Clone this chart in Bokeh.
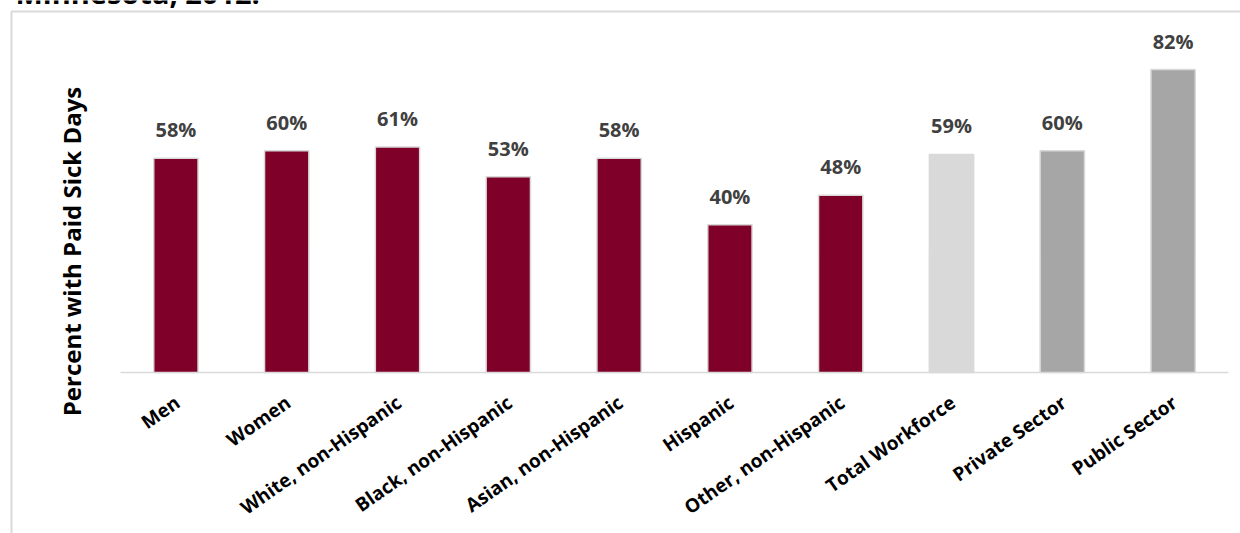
import math
from bokeh.plotting import figure
from bokeh.models import ColumnDataSource, Range1d
from bokeh.core.properties import value
from bokeh.embed import file_html
from bokeh.resources import INLINE

categories = ["Men", "Women", "White, non-Hispanic", "Black, non-Hispanic",
              "Asian, non-Hispanic", "Hispanic", "Other, non-Hispanic",
              "Total Workforce", "Private Sector", "Public Sector"]
values = [58, 60, 61, 53, 58, 40, 48, 59, 60, 82]
labels = ["58%", "60%", "61%", "53%", "58%", "40%", "48%", "59%", "60%", "82%"]
colors = ["#7F0028"] * 7 + ["#D9D9D9", "#A6A6A6", "#A6A6A6"]
title_text = "Minnesota, 2012."
y_title = "Percent with Paid Sick Days"

# layout (pixels of the 1240x533 canvas)
W, H = 1240, 533
PLOT_LEFT, PLOT_RIGHT, BASELINE = 120, 1228, 372
n = len(categories)
U = (PLOT_RIGHT - PLOT_LEFT) / n      # px per category
K = 3.695                              # px per percent


def px_x(px):
    return (px - PLOT_LEFT) / U


def px_y(py):
    return (BASELINE - py) / K


xc = [i + 0.5 for i in range(n)]
src = ColumnDataSource(dict(x=xc, cat=categories, val=values, lab=labels, col=colors))

p = figure(width=W, height=H, x_range=Range1d(px_x(0), px_x(W)),
           y_range=Range1d(px_y(H), px_y(0)), min_border=0,
           output_backend="svg", toolbar_location=None)
p.axis.visible = False
p.grid.grid_line_color = None
p.outline_line_color = None
p.background_fill_color = "white"
p.border_fill_color = "white"

# chart-area border (left and top)
p.line(x=[px_x(11), px_x(11), px_x(W + 5)], y=[px_y(H + 5), px_y(11), px_y(11)],
       line_color="#D9D9D9", line_width=2)

# category axis line
p.line(x=[0, n], y=[0, 0], line_color="#D9D9D9", line_width=1.5)

p.vbar(x="x", top="val", width=0.4, source=src, fill_color="col",
       line_color="#D9D9D9", line_width=1.5)

p.text(x="x", y="val", text="lab", source=src, text_align="center",
       text_baseline="bottom", y_offset=-15, text_font=value("Open Sans"),
       text_font_style="bold", text_font_size="20px", text_color="#404040")

# category labels
p.text(x="x", y=0, text="cat", source=src, angle=math.radians(35),
       text_align="right", text_baseline="top", x_offset=-6, y_offset=17,
       text_font=value("Open Sans"), text_font_style="bold",
       text_font_size="19px", text_color="#000000")

# y axis title
p.text(x=[px_x(71)], y=[px_y(251)], text=[y_title], angle=math.pi / 2,
       text_align="center", text_baseline="middle",
       text_font=value("Open Sans"), text_font_style="bold",
       text_font_size="24px", text_color="#000000")

# chart title (cut at the top, as in the original)
p.text(x=[px_x(15)], y=[px_y(11)], text=[title_text], text_align="left",
       text_baseline="bottom", text_font=value("Open Sans"),
       text_font_style="bold", text_font_size="29px", text_color="#000000")

open("out.html", "w").write(file_html(p, INLINE))
